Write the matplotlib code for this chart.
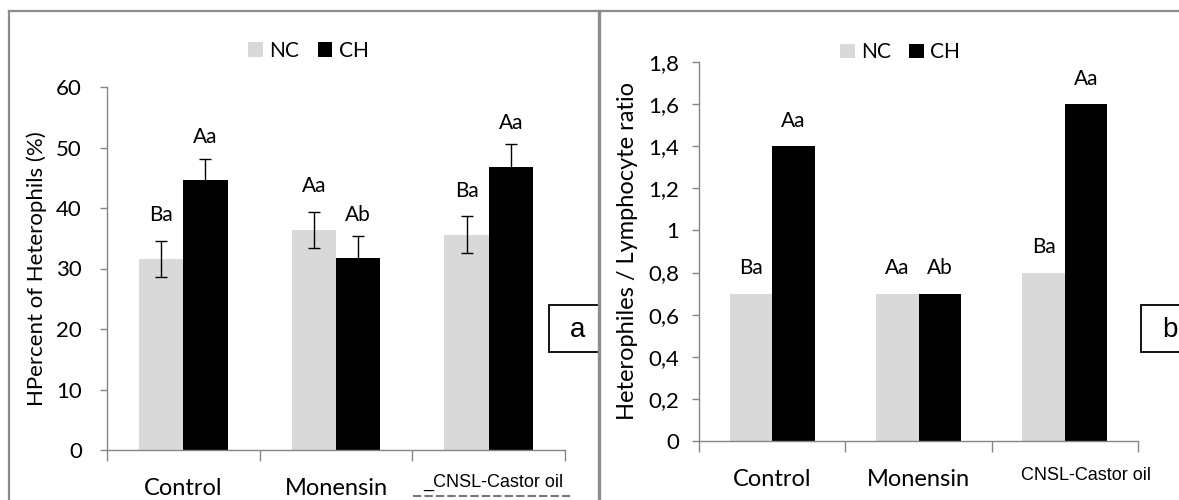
import matplotlib.pyplot as plt
import numpy as np
from matplotlib.lines import Line2D
from matplotlib.patches import Rectangle
from matplotlib.transforms import ScaledTranslation

# data
groups = ["Control", "Monensin", "CNSL-Castor oil"]
series = ["NC", "CH"]

het_nc = [31.6, 36.4, 35.6]
het_ch = [44.6, 31.8, 46.8]
het_nc_err = [3.0, 3.0, 3.0]
het_ch_err = [3.5, 3.5, 3.7]
het_nc_letters = ["Ba", "Aa", "Ba"]
het_ch_letters = ["Aa", "Ab", "Aa"]

hl_nc = [0.7, 0.7, 0.8]
hl_ch = [1.4, 0.7, 1.6]
hl_nc_letters = ["Ba", "Aa", "Ba"]
hl_ch_letters = ["Aa", "Ab", "Aa"]

NC_COLOR = "#d9d9d9"
CH_COLOR = "#000000"
AXIS_GRAY = "#868686"
FRAME_GRAY = "#8c8c8c"
W, H = 1179, 500

plt.rcParams["font.family"] = ["Lato", "DejaVu Sans"]

fig = plt.figure(figsize=(W / 100, H / 100), dpi=100)


def px_axes(x0, x1, ytop, ybot):
    return fig.add_axes([x0 / W, (H - ybot) / H, (x1 - x0) / W, (ybot - ytop) / H])


def style_axes(ax, ylim, yticks, yticklabels, ypad, xlabels):
    x = np.arange(len(groups))
    ax.set_xlim(-0.5, len(groups) - 0.5)
    ax.set_ylim(*ylim)
    for side in ("top", "right"):
        ax.spines[side].set_visible(False)
    for side in ("left", "bottom"):
        ax.spines[side].set_color(AXIS_GRAY)
        ax.spines[side].set_linewidth(1.0)
    ax.set_yticks(yticks)
    ax.set_yticklabels(yticklabels)
    ax.tick_params(axis="y", colors=AXIS_GRAY, labelcolor="black",
                   length=5, width=1, labelsize=16, pad=ypad)
    ax.set_xticks(x)
    ax.set_xticklabels(xlabels)
    ax.tick_params(axis="x", length=0, labelsize=17, pad=20)
    ax.set_xticks(np.arange(-0.5, len(groups)), minor=True)
    ax.tick_params(axis="x", which="minor", length=8, width=1, colors=AXIS_GRAY)
    # last category label is in Arial, a little smaller
    lab = ax.get_xticklabels()[2]
    lab.set_fontfamily("Liberation Sans")
    lab.set_fontsize(13)
    return x


def bars(ax, x, nc, ch, nc_err=None, ch_err=None):
    w = 0.29
    ax.bar(x - w / 2, nc, w, color=NC_COLOR, label="NC", zorder=2)
    ax.bar(x + w / 2, ch, w, color=CH_COLOR, label="CH", zorder=2)
    if nc_err is not None:
        ax.errorbar(x - w / 2, nc, yerr=nc_err, fmt="none", ecolor="black",
                    elinewidth=1, capsize=4.5, capthick=1, zorder=3)
        ax.errorbar(x + w / 2, ch, yerr=ch_err, fmt="none", ecolor="black",
                    elinewidth=1, capsize=4.5, capthick=1, zorder=3)
    return w


# ---------- panel a ----------
ax1 = px_axes(107, 565, 87, 450)
x = style_axes(ax1, (0, 60), range(0, 61, 10), [str(v) for v in range(0, 61, 10)], 13,
               ["Control", "Monensin", "_CNSL-Castor oil"])
w = bars(ax1, x, het_nc, het_ch, het_nc_err, het_ch_err)
for i in range(len(groups)):
    ax1.text(x[i] - w / 2, het_nc[i] + het_nc_err[i] + 4.2, het_nc_letters[i],
             ha="center", va="center", fontsize=15)
    ax1.text(x[i] + w / 2, het_ch[i] + het_ch_err[i] + 3.6, het_ch_letters[i],
             ha="center", va="center", fontsize=15)
ax1.set_ylabel("HPercent of Heterophils (%)", fontsize=16)
ax1.yaxis.set_label_coords(-0.13, 0.5)
lab = ax1.get_xticklabels()[2]
lab.set_transform(lab.get_transform() + ScaledTranslation(0.05, 0.04, fig.dpi_scale_trans))
ax1.legend(loc="center", bbox_to_anchor=(0.44, 1.1), ncol=2, frameon=False,
           fontsize=15, handlelength=0.7, handleheight=0.7,
           handletextpad=0.3, columnspacing=0.9, borderaxespad=0)

# ---------- panel b ----------
ax2 = px_axes(699, 1138, 62, 441)
hl_ticks = np.round(np.arange(0, 1.81, 0.2), 1)
hl_ticklabels = [("%g" % v).replace(".", ",") for v in hl_ticks]
x = style_axes(ax2, (0, 1.8), hl_ticks, hl_ticklabels, 9, groups)
w = bars(ax2, x, hl_nc, hl_ch)
for i in range(len(groups)):
    ax2.text(x[i] - w / 2, hl_nc[i] + 0.12, hl_nc_letters[i],
             ha="center", va="center", fontsize=15)
    ax2.text(x[i] + w / 2, hl_ch[i] + 0.12, hl_ch_letters[i],
             ha="center", va="center", fontsize=15)
ax2.set_ylabel("Heterophiles / Lymphocyte ratio", fontsize=17)
ax2.yaxis.set_label_coords(-0.14, 0.5)
lab = ax2.get_xticklabels()[2]
lab.set_transform(lab.get_transform() + ScaledTranslation(0.21, 0.02, fig.dpi_scale_trans))
ax2.legend(loc="center", bbox_to_anchor=(0.458, 1.026), ncol=2, frameon=False,
           fontsize=15, handlelength=0.7, handleheight=0.7,
           handletextpad=0.3, columnspacing=0.9, borderaxespad=0)


# ---------- frames, stray marks and panel letters ----------
def fig_line(xs, ys, lw, color=FRAME_GRAY, **kw):
    fig.add_artist(Line2D([v / W for v in xs], [1 - v / H for v in ys],
                          color=color, linewidth=lw, **kw))


fig_line([9, 9], [11, 500], 1.6)
fig_line([9, W], [11, 11], 1.6)
fig_line([599, 599], [11, 500], 2.4)
# clipped tops of a stray text line under panel a's last label
fig_line([413, 572], [496, 496], 1.5, color="#777777", linestyle=(0, (4, 1.5)))

for (bx0, bx1, letter, tx) in [(549, 600, "a", 578), (1141, 1200, "b", 1170)]:
    fig.add_artist(Rectangle((bx0 / W, 1 - 352 / H), (bx1 - bx0) / W, 47 / H,
                             transform=fig.transFigure, facecolor="white",
                             edgecolor="black", linewidth=1.3))
    fig.text(tx / W, 1 - 330 / H, letter, ha="center", va="center",
             fontsize=20, family="Liberation Sans")

fig.savefig("out.png", dpi=100)
